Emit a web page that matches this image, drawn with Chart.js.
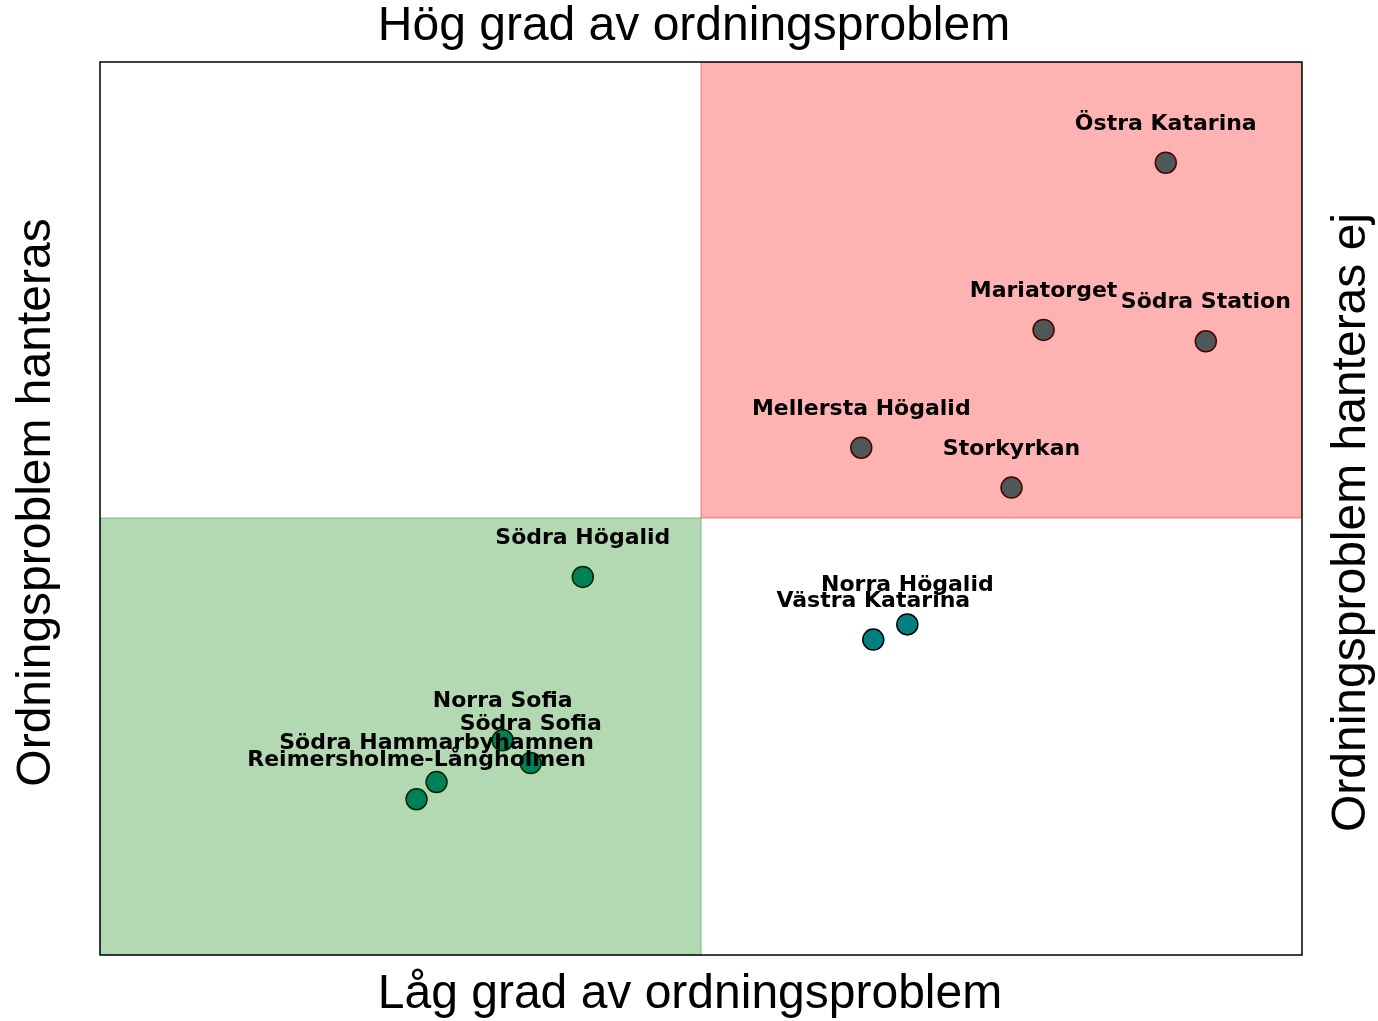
<!DOCTYPE html>
<html lang="sv">
<head>
<meta charset="utf-8">
<title>Ordningsproblem per område</title>
<script src="https://cdn.jsdelivr.net/npm/chart.js@4/dist/chart.umd.min.js"></script>
<style>
  html, body { margin: 0; padding: 0; background: #fff; }
  #wrap { width: 1378px; height: 1021px; position: relative; }
</style>
</head>
<body>
<div id="wrap"><canvas id="quadChart"></canvas></div>
<script>
// Områden och deras position (x = grad av ordningsproblem, y = hantering)
const omraden = [
  'Östra Katarina', 'Mariatorget', 'Södra Station', 'Mellersta Högalid',
  'Storkyrkan', 'Södra Högalid', 'Norra Högalid', 'Västra Katarina',
  'Norra Sofia', 'Södra Sofia', 'Södra Hammarbyhamnen', 'Reimersholme-Långholmen'
];
const grad = [2.32, 1.71, 2.52, 0.80, 1.55, -0.59, 1.03, 0.86, -0.99, -0.85, -1.32, -1.42];
const hantering = [1.87, 0.99, 0.93, 0.37, 0.16, -0.31, -0.56, -0.64, -1.17, -1.29, -1.39, -1.48];

// Axlarnas gränser, kvadranterna delas vid 0
const xMin = -3, xMax = 3;
const yMin = -2.3, yMax = 2.4;

// Kvadranter: röd = hög grad och hanteras ej, grön = låg grad och hanteras
const kvadranter = [
  { x0: 0, x1: xMax, y0: 0, y1: yMax, fill: 'rgba(255,0,0,0.3)', edge: 'rgba(255,0,0,0.3)' },
  { x0: xMin, x1: 0, y0: yMin, y1: 0, fill: 'rgba(0,128,0,0.3)', edge: 'rgba(0,128,0,0.3)' }
];

const punkter = grad.map((x, i) => ({ x: x, y: hantering[i] }));

// Ritar kvadranterna ovanpå punkterna, sedan etiketter, ram och rubriker
const quadPlugin = {
  id: 'quadPlugin',
  afterDatasetsDraw(chart) {
    const { ctx, chartArea, scales } = chart;
    ctx.save();
    ctx.beginPath();
    ctx.rect(chartArea.left, chartArea.top, chartArea.width, chartArea.height);
    ctx.clip();
    kvadranter.forEach(k => {
      const l = scales.x.getPixelForValue(k.x0);
      const r = scales.x.getPixelForValue(k.x1);
      const t = scales.y.getPixelForValue(k.y1);
      const b = scales.y.getPixelForValue(k.y0);
      ctx.fillStyle = k.fill;
      ctx.fillRect(l, t, r - l, b - t);
      ctx.strokeStyle = k.edge;
      ctx.lineWidth = 1.5;
      ctx.strokeRect(l, t, r - l, b - t);
    });
    ctx.restore();
  },
  afterDraw(chart) {
    const { ctx, chartArea, scales } = chart;
    ctx.save();

    // etiketter ovanför varje punkt
    ctx.fillStyle = '#000';
    ctx.font = 'bold 22px "DejaVu Sans"';
    ctx.textAlign = 'center';
    ctx.textBaseline = 'alphabetic';
    omraden.forEach((namn, i) => {
      const px = scales.x.getPixelForValue(grad[i]);
      const py = scales.y.getPixelForValue(hantering[i]);
      ctx.fillText(namn, px, py - 33);
    });

    // ram runt diagrammet
    ctx.strokeStyle = '#000';
    ctx.lineWidth = 1.5;
    ctx.strokeRect(chartArea.left, chartArea.top, chartArea.width, chartArea.height);

    // rubriker på alla fyra sidor
    ctx.font = '48px "Liberation Sans", Arial, sans-serif';
    ctx.textBaseline = 'middle';
    const midX = (chartArea.left + chartArea.right) / 2;
    const midY = (chartArea.top + chartArea.bottom) / 2;
    ctx.fillText('Hög grad av ordningsproblem', midX - 7, 27);
    ctx.fillText('Låg grad av ordningsproblem', midX - 11, 995);

    ctx.save();
    ctx.translate(37, midY - 6);
    ctx.rotate(-Math.PI / 2);
    ctx.fillText('Ordningsproblem hanteras', 0, 0);
    ctx.restore();

    ctx.save();
    ctx.translate(1352, midY + 14);
    ctx.rotate(-Math.PI / 2);
    ctx.fillText('Ordningsproblem hanteras ej', 0, 0);
    ctx.restore();

    ctx.restore();
  }
};

function initQuadChart() {
  const ctx = document.getElementById('quadChart');
  return new Chart(ctx, {
    type: 'scatter',
    data: {
      datasets: [{
        data: punkter,
        backgroundColor: 'rgb(0,128,128)',
        borderColor: '#000',
        borderWidth: 1.5,
        pointRadius: 10.5,
        pointHoverRadius: 10.5
      }]
    },
    options: {
      responsive: true,
      maintainAspectRatio: false,
      animation: false,
      layout: { padding: { left: 100, top: 62, right: 76, bottom: 66 } },
      scales: {
        x: { type: 'linear', min: xMin, max: xMax, display: false },
        y: { type: 'linear', min: yMin, max: yMax, display: false }
      },
      plugins: {
        legend: { display: false },
        tooltip: { enabled: false }
      }
    },
    plugins: [quadPlugin]
  });
}

initQuadChart();
</script>
</body>
</html>
